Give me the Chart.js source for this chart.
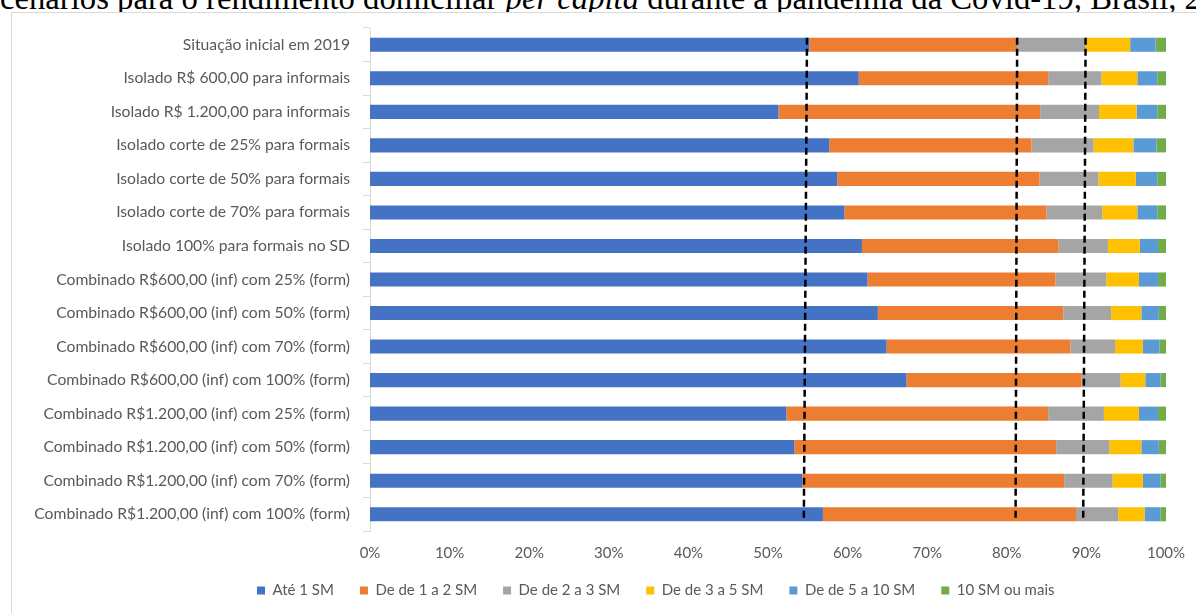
<!DOCTYPE html>
<html lang="pt-BR">
<head>
<meta charset="utf-8">
<title>Distribuição do rendimento domiciliar per capita</title>
<script src="https://cdn.jsdelivr.net/npm/chart.js@4.4.1/dist/chart.umd.min.js"></script>
<style>
  html, body { margin: 0; padding: 0; background: #ffffff; overflow: hidden; }
  body { width: 1196px; height: 613px; position: relative; }
  #caption {
    position: absolute; left: 0; top: -18.5px; white-space: nowrap;
    font-family: "Liberation Serif", "DejaVu Serif", serif; font-size: 32.7px; line-height: 32.7px;
    color: #000000;
  }
  #frame {
    position: absolute; left: 11px; top: 12px; width: 1280px; height: 620px;
    border: 1px solid #d9d9d9; background: #ffffff;
  }
  #frame canvas { display: block; }
</style>
</head>
<body>
<div id="caption">cenários para o rendimento domiciliar <i>per capita</i> durante a pandemia da Covid-19, Brasil, 2020</div>
<div id="frame"><canvas id="chart" width="1280" height="620"></canvas></div>
<script>
// Cenários (de cima para baixo)
const categories = [
  'Situação inicial em 2019',
  'Isolado R$ 600,00 para informais',
  'Isolado R$ 1.200,00 para informais',
  'Isolado corte de 25% para formais',
  'Isolado corte de 50% para formais',
  'Isolado corte de 70% para formais',
  'Isolado 100% para formais no SD',
  'Combinado R$600,00 (inf) com 25% (form)',
  'Combinado R$600,00 (inf) com 50% (form)',
  'Combinado R$600,00 (inf) com 70% (form)',
  'Combinado R$600,00 (inf) com 100% (form)',
  'Combinado R$1.200,00 (inf) com 25% (form)',
  'Combinado R$1.200,00 (inf) com 50% (form)',
  'Combinado R$1.200,00 (inf) com 70% (form)',
  'Combinado R$1.200,00 (inf) com 100% (form)'
];

// Participação (%) de cada faixa de salário mínimo em cada cenário
const ate1SM   = [55.2, 61.4, 51.3, 57.7, 58.7, 59.6, 61.8, 62.5, 63.8, 64.9, 67.4, 52.3, 53.3, 54.3, 56.9];
const de1a2SM  = [26.1, 23.8, 32.9, 25.4, 25.4, 25.4, 24.7, 23.6, 23.3, 23.1, 22.0, 32.9, 32.9, 32.9, 31.8];
const de2a3SM  = [8.6, 6.7, 7.4, 7.8, 7.4, 7.0, 6.2, 6.4, 6.0, 5.6, 4.9, 7.0, 6.7, 6.1, 5.3];
const de3a5SM  = [5.6, 4.5, 4.7, 5.0, 4.7, 4.4, 4.0, 4.1, 3.8, 3.5, 3.1, 4.4, 4.0, 3.8, 3.3];
const de5a10SM = [3.2, 2.5, 2.6, 2.9, 2.7, 2.5, 2.3, 2.4, 2.2, 2.1, 1.9, 2.4, 2.2, 2.2, 2.0];
const mais10SM = [1.3, 1.1, 1.1, 1.2, 1.1, 1.1, 1.0, 1.0, 0.9, 0.8, 0.7, 1.0, 0.9, 0.7, 0.7];

const seriesNames = ['Até 1 SM', 'De de 1 a 2 SM', 'De de 2 a 3 SM', 'De de 3 a 5 SM', 'De de 5 a 10 SM', '10 SM ou mais'];
const seriesColors = ['#4472C4', '#ED7D31', '#A5A5A5', '#FFC000', '#5B9BD5', '#70AD47'];
const seriesValues = [ate1SM, de1a2SM, de2a3SM, de3a5SM, de5a10SM, mais10SM];

// Linhas de referência: limites acumulados da situação inicial (topo e base da linha, em %)
const refLineTop    = [54.9, 81.3, 89.9];
const refLineBottom = [54.5, 81.1, 89.6];

const xTicks = [0, 10, 20, 30, 40, 50, 60, 70, 80, 90, 100];

const textColor = '#595959';
const uiFont = '"Lato", "Open Sans", sans-serif';

const referenceLines = {
  id: 'referenceLines',
  afterDatasetsDraw(chart) {
    const { ctx, scales: { x, y } } = chart;
    const half = chart.getDatasetMeta(0).data[0].height / 2;
    const yTop = y.getPixelForValue(0) - half;
    const yBottom = y.getPixelForValue(categories.length - 1) + half;
    ctx.save();
    ctx.strokeStyle = '#000000';
    ctx.lineWidth = 2.5;
    ctx.setLineDash([7, 4]);
    refLineTop.forEach((v, i) => {
      ctx.beginPath();
      ctx.moveTo(x.getPixelForValue(v), yTop);
      ctx.lineTo(x.getPixelForValue(refLineBottom[i]), yBottom);
      ctx.stroke();
    });
    ctx.restore();
  }
};

// Posiciona a legenda sob o gráfico, mais próxima do eixo horizontal
const legendPlacement = {
  id: 'legendPlacement',
  afterLayout(chart) {
    const lg = chart.legend;
    lg.left = 219;
    lg.right = chart.width;
    lg.top -= 10; lg.bottom -= 10;
  }
};

new Chart(document.getElementById('chart'), {
  type: 'bar',
  data: {
    labels: categories,
    datasets: seriesNames.map((name, i) => ({
      label: name,
      data: seriesValues[i],
      backgroundColor: seriesColors[i],
      borderWidth: 0,
      barPercentage: 0.42,
      categoryPercentage: 1
    }))
  },
  options: {
    indexAxis: 'y',
    responsive: false,
    animation: false,
    layout: { padding: { left: 0, right: 126, top: 15, bottom: 15 } },
    scales: {
      x: {
        stacked: true,
        min: 0, max: 100,
        afterBuildTicks(scale) { scale.ticks = xTicks.map(v => ({ value: v })); },
        grid: { display: false, drawTicks: false },
        border: { display: false },
        ticks: {
          padding: 13,
          color: textColor,
          font: { family: uiFont, size: 15 },
          callback: v => v + '%'
        },
        afterFit(scale) { scale.height = 36; }
      },
      y: {
        stacked: true,
        grid: { drawOnChartArea: false, drawTicks: true, tickLength: 7, color: '#d9d9d9', offset: true },
        border: { display: true, color: '#d9d9d9', width: 1 },
        ticks: {
          padding: 13,
          color: textColor,
          font: { family: uiFont, size: 15.7 }
        },
        afterFit(scale) {
          scale.width = 358;
          scale.paddingTop = 0;
          scale.paddingBottom = 0;
        }
      }
    },
    plugins: {
      legend: {
        position: 'bottom',
        align: 'start',
        labels: {
          color: textColor,
          font: { family: uiFont, size: 15 },
          boxWidth: 8,
          boxHeight: 8,
          padding: 26
        }
      },
      tooltip: { enabled: false }
    }
  },
  plugins: [referenceLines, legendPlacement]
});
</script>
</body>
</html>
